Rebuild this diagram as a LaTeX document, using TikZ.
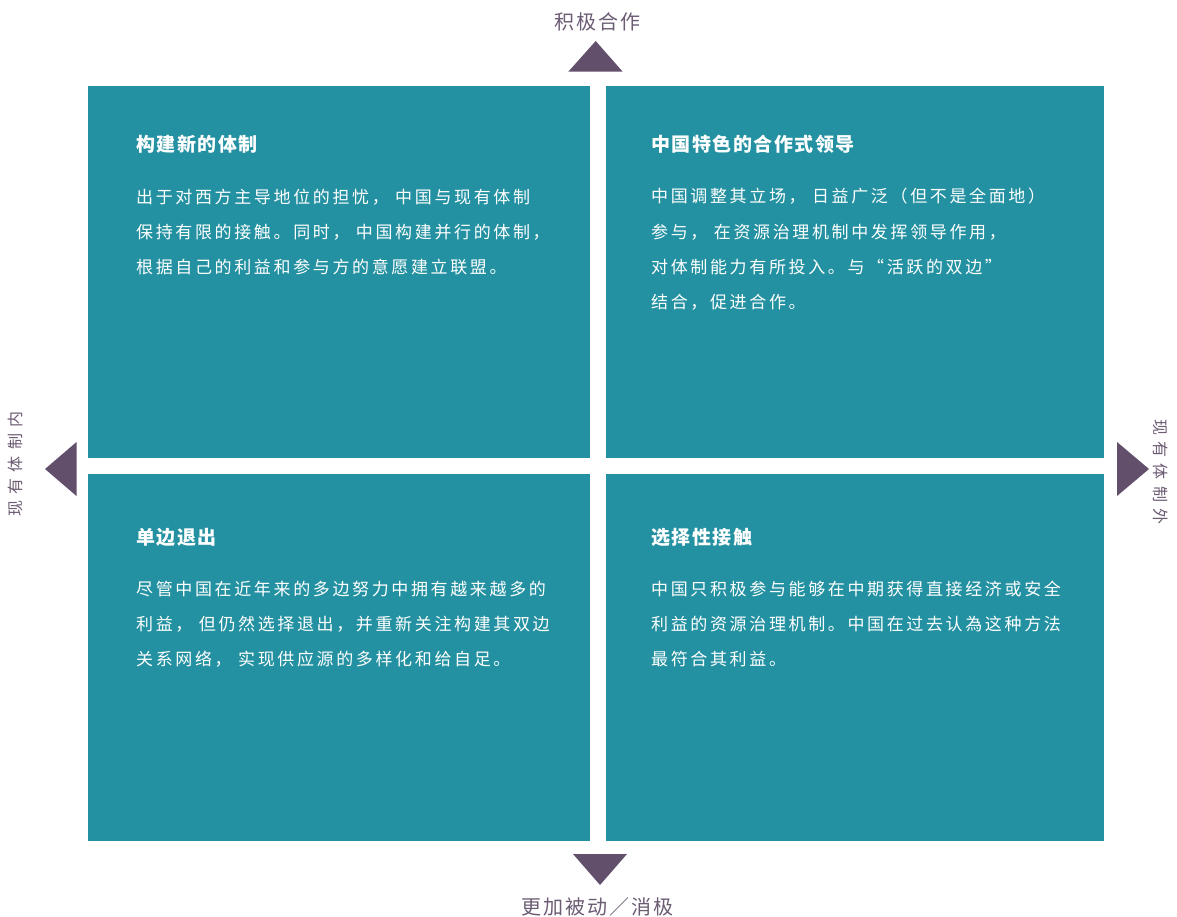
\documentclass[tikz,border=0pt]{standalone}
\usepackage{fontspec}
\setmainfont{Noto Sans CJK SC}
\newfontfamily\bodyfont[LetterSpace=15.5]{Noto Sans CJK SC}
\newfontfamily\headfont[LetterSpace=8]{Noto Sans CJK SC}
\newfontfamily\axisfont[LetterSpace=10]{Noto Sans CJK SC}
\newfontfamily\sidefont[LetterSpace=38]{Noto Sans CJK SC}
\definecolor{quadteal}{HTML}{2391A1}
\definecolor{markpurple}{HTML}{624F6C}
\definecolor{axisgray}{HTML}{6B5B73}

\begin{document}
\begin{tikzpicture}[
  x=1pt, y=-1pt,
  quad/.style={fill=quadteal},
  tip/.style={fill=markpurple},
  head/.style={anchor=base west, inner sep=0pt, text=white, font=\headfont\bfseries\fontsize{19}{22}\selectfont},
  body/.style={anchor=base west, inner sep=0pt, text=white, align=left, font=\bodyfont\fontsize{17}{35}\selectfont},
  axis/.style={inner sep=0pt, text=axisgray, font=\axisfont\fontsize{20}{24}\selectfont},
  side/.style={inner sep=0pt, text=axisgray, font=\sidefont\fontsize{16}{18}\selectfont}
]
\useasboundingbox (0,0) rectangle (1177,917);

% ---- four quadrants ----
\foreach \xa/\ya/\xb/\yb in {88/86/589.5/458.3, 605.7/86/1104/458.3, 88/474.3/589.5/840.7, 605.7/474.3/1104/840.7}
{
  \fill[quad] (\xa,\ya) rectangle (\xb,\yb);
}

% ---- direction marks ----
\fill[tip] (568.3,71.7) -- (595.7,41) -- (622.7,71.7) -- cycle;
\fill[tip] (573,854) -- (600,885) -- (627,854) -- cycle;
\fill[tip] (76.5,442) -- (45,469) -- (76.5,496) -- cycle;
\fill[tip] (1117,442) -- (1149,469) -- (1117,496) -- cycle;

% ---- axis labels ----
\node[axis] (active) at (597,22) {积极合作};
\node[axis] (passive) at (597,907) {更加被动／消极};
\node[side, rotate=90] (inside) at (15.5,464) {现有体制内};
\node[side, rotate=-90] (outside) at (1161,472) {现有体制外};

% ---- top left (base = last line) ----
\node[head] (nwhead) at (136,152) {构建新的体制};
\node[body] (nwbody) at (136,273) {出于对西方主导地位的担忧， 中国与现有体制\\保持有限的接触。同时， 中国构建并行的体制，\\根据自己的利益和参与方的意愿建立联盟。};

% ---- top right ----
\node[head] (nehead) at (651,152) {中国特色的合作式领导};
\node[body] (nebody) at (651,308) {中国调整其立场， 日益广泛（但不是全面地）\\参与， 在资源治理机制中发挥领导作用，\\对体制能力有所投入。与“活跃的双边”\\结合，促进合作。};

% ---- bottom left ----
\node[head] (swhead) at (136,544) {单边退出};
\node[body] (swbody) at (136,665) {尽管中国在近年来的多边努力中拥有越来越多的\\利益， 但仍然选择退出，并重新关注构建其双边\\关系网络， 实现供应源的多样化和给自足。};

% ---- bottom right ----
\node[head] (sehead) at (651,544) {选择性接触};
\node[body] (sebody) at (651,665) {中国只积极参与能够在中期获得直接经济或安全\\利益的资源治理机制。中国在过去认為这种方法\\最符合其利益。};
\end{tikzpicture}
\end{document}
